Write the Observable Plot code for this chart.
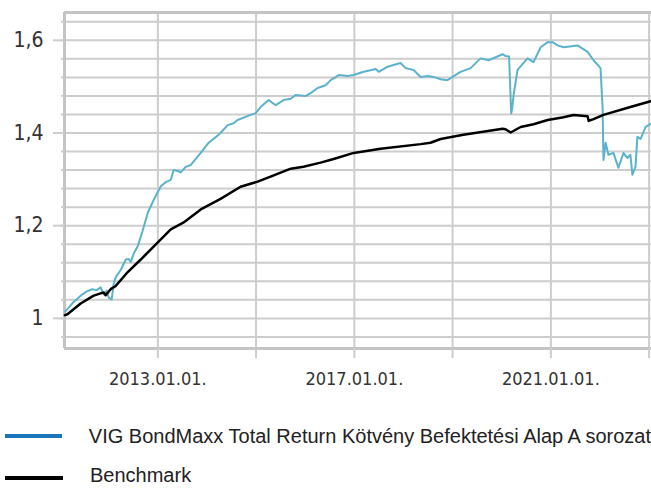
<!DOCTYPE html>
<html>
<head>
<meta charset="utf-8">
<script src="https://cdn.jsdelivr.net/npm/d3@7"></script>
<script src="https://cdn.jsdelivr.net/npm/@observablehq/plot@0.6"></script>
<style>
  html, body { margin: 0; padding: 0; background: #fff; }
  #chart svg { display: block; }
  .legend { font-family: "Liberation Sans", Arial, sans-serif; font-size: 20px; color: #222; padding-top: 12px; height: 77px; }
  .row { display: flex; align-items: center; height: 47px; }
  .row.last { height: 30px; align-items: flex-end; }
  .row span { line-height: 18px; white-space: nowrap; }
  .row.last span { margin-bottom: 5px; }
  .sw { width: 58px; height: 4px; margin-left: 5px; margin-right: 27px; }
  .row.last .sw { margin-bottom: 9px; }
  .xl text { font-family: "DejaVu Sans Condensed", "DejaVu Sans", sans-serif; font-stretch: condensed; }
  .yl text { font-family: "DejaVu Sans Condensed", "DejaVu Sans", sans-serif; font-stretch: condensed; }
</style>
</head>
<body>
<div id="chart"></div>
<div class="legend" id="legend"></div>
<script>
// Series names
const seriesNames = ["VIG BondMaxx Total Return Kötvény Befektetési Alap A sorozat", "Benchmark"];

// Fund (blue) series
const fundDates = ["2011-02-12","2011-03-01","2011-04-08","2011-06-07","2011-07-21","2011-09-02","2011-10-04","2011-11-03","2011-11-25","2011-12-18","2012-01-01","2012-01-24","2012-02-08","2012-02-23","2012-04-01","2012-05-08","2012-05-30","2012-06-14","2012-07-06","2012-08-05","2012-09-11","2012-10-18","2012-12-02","2013-01-23","2013-03-01","2013-04-07","2013-04-29","2013-05-29","2013-06-20","2013-07-27","2013-09-03","2013-11-16","2014-01-14","2014-03-28","2014-04-12","2014-06-04","2014-07-18","2014-08-17","2014-11-22","2014-12-29","2015-02-04","2015-04-05","2015-05-27","2015-07-25","2015-09-16","2015-10-22","2016-01-05","2016-02-11","2016-04-03","2016-06-02","2016-07-09","2016-09-07","2016-11-13","2016-12-27","2017-03-11","2017-06-09","2017-07-01","2017-09-05","2017-12-10","2018-01-17","2018-03-17","2018-05-09","2018-06-30","2018-08-13","2018-10-04","2018-11-24","2019-03-01","2019-05-15","2019-07-28","2019-09-26","2020-01-08","2020-01-30","2020-02-25","2020-03-12","2020-03-20","2020-03-30","2020-04-28","2020-07-11","2020-08-25","2020-10-17","2020-12-08","2021-01-14","2021-02-20","2021-04-05","2021-07-18","2021-10-01","2021-11-14","2022-01-05","2022-01-20","2022-01-27","2022-02-12","2022-03-05","2022-04-11","2022-05-18","2022-06-25","2022-07-24","2022-08-15","2022-08-30","2022-09-22","2022-10-06","2022-10-29","2022-12-06","2023-01-19"];
const fundValues = [1.015,1.020,1.033,1.049,1.058,1.063,1.061,1.067,1.052,1.060,1.045,1.041,1.075,1.089,1.105,1.127,1.128,1.122,1.140,1.156,1.190,1.228,1.256,1.285,1.294,1.299,1.320,1.318,1.315,1.327,1.331,1.357,1.379,1.396,1.400,1.417,1.421,1.428,1.439,1.443,1.456,1.471,1.460,1.471,1.474,1.482,1.480,1.486,1.497,1.503,1.514,1.525,1.523,1.525,1.532,1.538,1.532,1.543,1.551,1.540,1.536,1.521,1.523,1.521,1.516,1.514,1.532,1.540,1.561,1.557,1.570,1.566,1.565,1.442,1.455,1.482,1.536,1.561,1.553,1.585,1.596,1.596,1.589,1.585,1.589,1.575,1.557,1.540,1.457,1.342,1.379,1.353,1.357,1.325,1.357,1.346,1.353,1.310,1.327,1.392,1.387,1.413,1.421];

// Benchmark (black) series
const benchDates = ["2011-02-10","2011-03-01","2011-06-07","2011-09-12","2011-11-25","2011-12-10","2012-01-16","2012-02-23","2012-05-22","2012-08-27","2013-01-01","2013-04-07","2013-07-12","2013-11-16","2014-04-12","2014-09-08","2015-01-13","2015-04-19","2015-09-16","2015-12-20","2016-04-25","2016-07-31","2016-12-27","2017-07-15","2018-05-09","2018-07-21","2018-10-04","2019-03-23","2020-01-08","2020-01-30","2020-03-08","2020-05-21","2020-08-25","2020-12-08","2021-04-05","2021-06-18","2021-10-01","2021-10-09","2021-11-14","2022-01-27","2022-08-15","2023-01-19"];
const benchValues = [1.007,1.009,1.032,1.049,1.056,1.050,1.063,1.070,1.100,1.127,1.164,1.192,1.207,1.235,1.258,1.284,1.295,1.306,1.323,1.327,1.336,1.344,1.357,1.366,1.376,1.379,1.387,1.396,1.409,1.408,1.401,1.413,1.419,1.428,1.434,1.439,1.436,1.426,1.430,1.439,1.456,1.469];

// Axis ticks
const xGridDates = ["2013-01-01","2015-01-01","2017-01-01","2019-01-01","2021-01-01","2023-01-01"];
const xTickLabels = ["2013.01.01.","","2017.01.01.","","2021.01.01.",""];
const yMajorTicks = [1, 1.2, 1.4, 1.6];
const yMinorTicks = [0.96,1.00,1.04,1.08,1.12,1.16,1.20,1.24,1.28,1.32,1.36,1.40,1.44,1.48,1.52,1.56,1.60,1.64];

const parse = d3.utcParse("%Y-%m-%d");
const fund = fundDates.map((d, i) => ({date: parse(d), value: fundValues[i]}));
const bench = benchDates.map((d, i) => ({date: parse(d), value: benchValues[i]}));
const xTicks = xGridDates.map(parse);
const labelOf = new Map(xTicks.map((d, i) => [+d, xTickLabels[i]]));

const x0 = parse("2011-02-07"), x1 = parse("2023-01-19");
const y0 = 0.935, y1 = 1.66;
const grid = "#cdcdcd";

const chart = Plot.plot({
  width: 651,
  height: 400,
  marginLeft: 64,
  marginRight: 0,
  marginTop: 12,
  marginBottom: 52,
  style: {fontFamily: "DejaVu Sans, sans-serif", color: "#333", background: "#fff"},
  x: {type: "utc", domain: [x0, x1]},
  y: {domain: [y0, y1]},
  marks: [
    Plot.gridY(yMinorTicks, {stroke: grid, strokeOpacity: 1, strokeWidth: 2}),
    Plot.gridX(xTicks, {stroke: grid, strokeOpacity: 1, strokeWidth: 2}),
    Plot.ruleY([y1], {stroke: "#c4c4c4", strokeWidth: 3}),
    Plot.ruleY([y0], {stroke: "#c4c4c4", strokeWidth: 3}),
    Plot.ruleX([x0], {stroke: "#c4c4c4", strokeWidth: 3}),
    Plot.axisX(xTicks, {className: "xl", tickSize: 10, stroke: grid, strokeWidth: 2, fill: "#333", fontSize: 18, tickPadding: 14, tickFormat: d => labelOf.get(+d), label: null}),
    Plot.axisY(yMinorTicks, {tickSize: 3, stroke: grid, strokeWidth: 2, tickFormat: () => "", label: null}),
    Plot.axisY(yMajorTicks, {className: "yl", tickSize: 11, stroke: grid, strokeWidth: 2, fill: "#333", fontSize: 21, tickPadding: 10, tickFormat: d => String(d).replace(".", ","), label: null}),
    Plot.line(fund, {x: "date", y: "value", stroke: "#5bb3cb", strokeWidth: 2}),
    Plot.line(bench, {x: "date", y: "value", stroke: "#000", strokeWidth: 2.5})
  ]
});
document.getElementById("chart").append(chart);

const legendColors = ["#1b75bb", "#000"];
const legend = document.getElementById("legend");
seriesNames.forEach((name, i) => {
  const row = document.createElement("div");
  row.className = i === seriesNames.length - 1 ? "row last" : "row";
  const sw = document.createElement("div");
  sw.className = "sw";
  sw.style.background = legendColors[i];
  const t = document.createElement("span");
  t.textContent = name;
  row.append(sw, t);
  legend.append(row);
});
</script>
</body>
</html>
